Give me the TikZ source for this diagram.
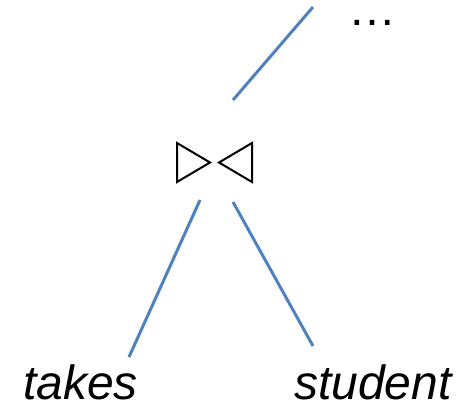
\documentclass[tikz,border=0pt]{standalone}
\usepackage{fontspec}
\setmainfont{Liberation Sans}
\definecolor{edgeblue}{HTML}{4F81BD}
\begin{document}
\begin{tikzpicture}[x=1pt,y=-1pt,
  edge/.style={draw=edgeblue,line width=3pt},
  bowtie/.style={draw=black,line width=2pt,line join=miter},
  relname/.style={font=\fontsize{48}{48}\selectfont\itshape,inner sep=0pt,anchor=base west},
  more/.style={font=\fontsize{48}{48}\selectfont,inner sep=0pt,anchor=base west}]
  \useasboundingbox (0,0) rectangle (469,407);

  % natural join symbol drawn as two facing triangles
  \coordinate (join) at (214.5,162.5);
  \draw[bowtie] (177,143) -- (210,162.5) -- (177,182) -- cycle;
  \draw[bowtie] (252,143) -- (219,162.5) -- (252,182) -- cycle;

  % leaves and continuation mark
  \node[relname] (takes) at (23,399) {takes};
  \node[relname] (student) at (294,399) {student};
  \node[more] (dots) at (348,25) {\ldots};

  % connector end points
  \coordinate (join-up) at (233,100);
  \coordinate (up-end) at (313,7);
  \coordinate (join-l) at (200,200);
  \coordinate (join-r) at (233,202);
  \coordinate (takes-top) at (129,357);
  \coordinate (student-top) at (313,346);

  \draw[edge] (join-up) -- (up-end);
  \draw[edge] (join-l) -- (takes-top);
  \draw[edge] (join-r) -- (student-top);
\end{tikzpicture}
\end{document}
